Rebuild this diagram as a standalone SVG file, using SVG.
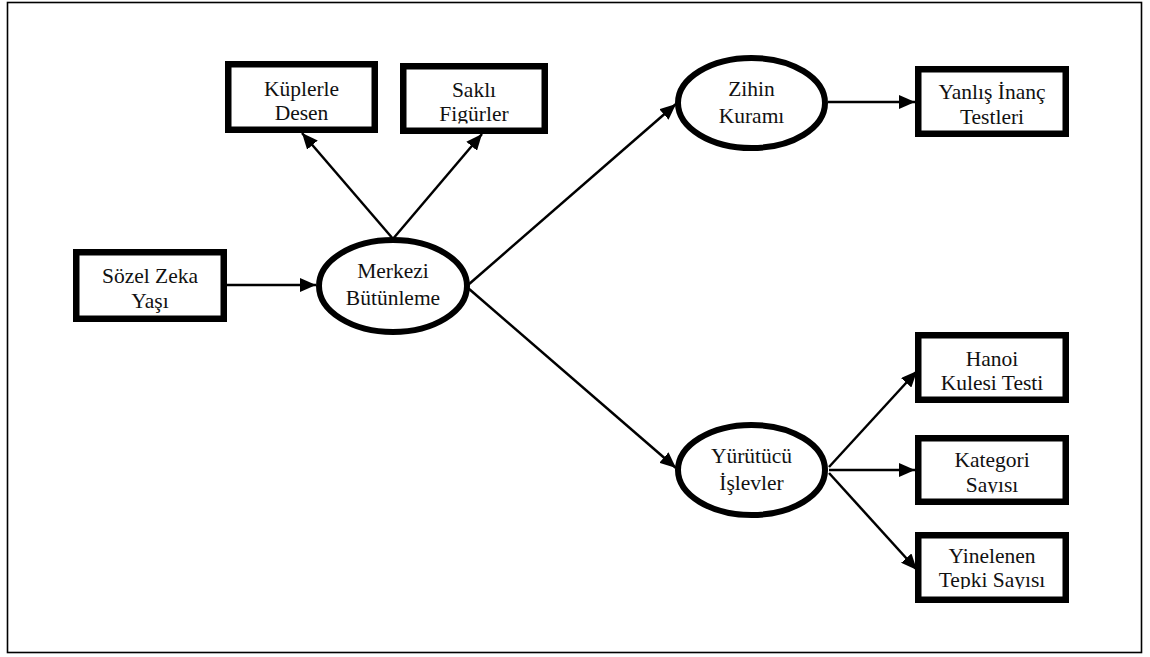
<svg xmlns="http://www.w3.org/2000/svg" width="1150" height="657" viewBox="0 0 1150 657">
<style>
.box{fill:#fff;stroke:#000;stroke-width:6.5}
.ell{fill:#fff;stroke:#000;stroke-width:6}
.t{font-family:"Liberation Serif","Times New Roman","DejaVu Serif",serif;font-size:21.5px;fill:#111;text-anchor:middle}
.edge{stroke:#000;stroke-width:2.5;fill:none;marker-end:url(#ah)}
</style>
<defs>
<marker id="ah" markerUnits="userSpaceOnUse" viewBox="0 0 16 14" refX="16" refY="7" markerWidth="16" markerHeight="14" orient="auto">
<path d="M0,0 L16,7 L0,14 z" fill="#000"/>
</marker>
<clipPath id="c1"><rect x="400" y="60" width="148" height="63.5"/></clipPath>
<clipPath id="c2"><rect x="915" y="430" width="154" height="63.5"/></clipPath>
<clipPath id="c3"><rect x="915" y="528" width="154" height="61"/></clipPath>
</defs>
<rect x="7.5" y="2.5" width="1134" height="650" fill="#fff" stroke="#000" stroke-width="1.6"/>
<g id="connectors">
<line class="edge" x1="227" y1="285" x2="316" y2="285"/>
<line class="edge" x1="394" y1="240" x2="302" y2="133"/>
<line class="edge" x1="392" y1="240" x2="482" y2="134"/>
<line class="edge" x1="468" y1="285" x2="676" y2="104"/>
<line class="edge" x1="468" y1="288" x2="676" y2="468"/>
<line class="edge" x1="828" y1="102" x2="915" y2="102"/>
<line class="edge" x1="829" y1="467" x2="917" y2="371"/>
<line class="edge" x1="829" y1="470" x2="915" y2="470"/>
<line class="edge" x1="829" y1="473" x2="917" y2="570"/>
</g>
<g id="sozel">
<rect class="box" x="76.25" y="252.25" width="147.5" height="66.5"/>
<text class="t" x="150" y="283">Sözel Zeka</text>
<text class="t" x="150" y="308">Yaşı</text>
</g>
<g id="merkezi">
<ellipse class="ell" cx="393" cy="286" rx="74" ry="46"/>
<text class="t" x="393" y="278">Merkezi</text>
<text class="t" x="393" y="305">Bütünleme</text>
</g>
<g id="kuplerle">
<rect class="box" x="228.25" y="64.25" width="146.5" height="65.5"/>
<text class="t" x="301.5" y="96">Küplerle</text>
<text class="t" x="301.5" y="120">Desen</text>
</g>
<g id="sakli">
<rect class="box" x="403.25" y="66.25" width="141.5" height="64.5"/>
<g clip-path="url(#c1)">
<text class="t" x="474" y="97">Saklı</text>
<text class="t" x="474" y="121">Figürler</text>
</g>
</g>
<g id="zihin">
<ellipse class="ell" cx="751.5" cy="103" rx="73.5" ry="45"/>
<text class="t" x="751.5" y="96">Zihin</text>
<text class="t" x="751.5" y="122.5">Kuramı</text>
</g>
<g id="yanlis">
<rect class="box" x="918.25" y="69.25" width="147.5" height="64.5"/>
<text class="t" x="992" y="99">Yanlış İnanç</text>
<text class="t" x="992" y="123.5">Testleri</text>
</g>
<g id="yurutucu">
<ellipse class="ell" cx="751.5" cy="470" rx="73.5" ry="45"/>
<text class="t" x="751.5" y="463">Yürütücü</text>
<text class="t" x="751.5" y="490">İşlevler</text>
</g>
<g id="hanoi">
<rect class="box" x="918.25" y="335.25" width="147.5" height="64.5"/>
<text class="t" x="992" y="366">Hanoi</text>
<text class="t" x="992" y="390">Kulesi Testi</text>
</g>
<g id="kategori">
<rect class="box" x="918.25" y="438.25" width="147.5" height="63.5"/>
<g clip-path="url(#c2)">
<text class="t" x="992" y="467">Kategori</text>
<text class="t" x="992" y="491.5">Sayısı</text>
</g>
</g>
<g id="yinelenen">
<rect class="box" x="918.25" y="535.25" width="147.5" height="64.5"/>
<g clip-path="url(#c3)">
<text class="t" x="992" y="563">Yinelenen</text>
<text class="t" x="992" y="587">Tepki Sayısı</text>
</g>
</g>
</svg>
